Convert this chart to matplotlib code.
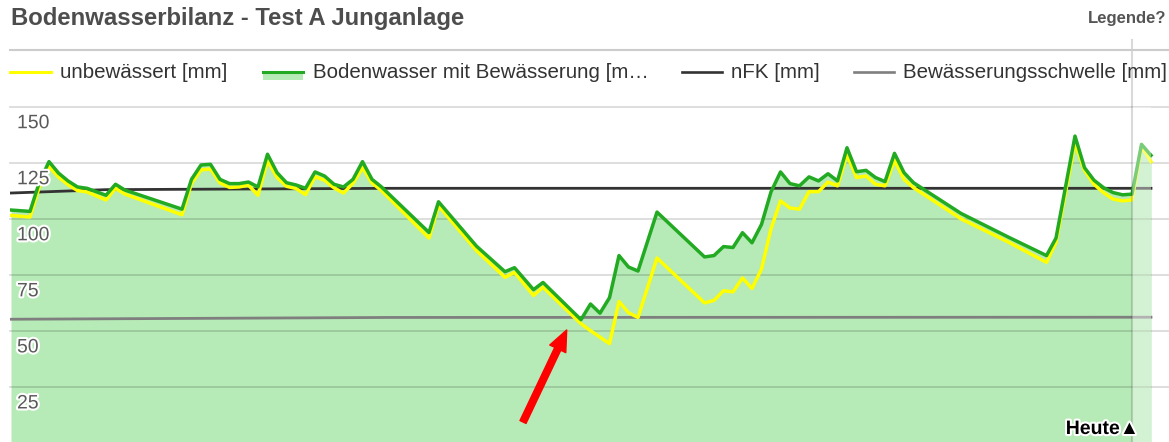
import numpy as np
import matplotlib.pyplot as plt
import matplotlib.patheffects as pe
from matplotlib.lines import Line2D
from matplotlib.patches import Rectangle

plt.rcParams["font.family"] = ["Liberation Sans", "DejaVu Sans"]

# Data ####################################################################################
title = "Bodenwasserbilanz - Test A Junganlage"
legend_labels = ["unbewässert [mm]", "Bodenwasser mit Bewässerung [m…", "nFK [mm]", "Bewässerungsschwelle [mm]"]

# day index of each point (today = 118)
days = [0, 2, 3, 4, 5, 6, 7, 8, 10, 11, 12, 18, 19, 20, 21, 22, 23, 24, 25, 26,
        27, 28, 29, 30, 31, 32, 33, 34, 35, 36, 37, 38, 39, 44, 45, 49, 52, 53, 55, 56,
        60, 61, 62, 63, 64, 65, 66, 68, 73, 74, 75, 76, 77, 78, 79, 80, 81, 82, 83, 84,
        85, 86, 87, 88, 89, 90, 91, 92, 93, 94, 95, 100, 105, 109, 110, 112, 113, 114, 115, 116,
        117, 118, 119, 120]
# soil water with irrigation [mm]
bewaessert = [103.9, 103.3, 116.5, 125.5, 120.4, 116.9, 114.2, 113.6, 110.5, 115.4, 112.8, 104.3, 117.6, 124.0, 124.3, 117.6, 115.7, 115.7, 116.4, 114.2,
              128.8, 120.6, 116.1, 115.1, 113.6, 120.9, 119.1, 115.4, 114.2, 117.6, 125.5, 117.6, 114.2, 93.9, 107.6, 87.8, 76.4, 78.2, 68.4, 71.6,
              55.0, 62.0, 57.9, 64.8, 83.6, 78.5, 76.7, 103.0, 83.0, 83.6, 87.6, 87.2, 93.8, 89.3, 97.5, 112.0, 120.9, 115.7, 114.7, 118.7,
              116.9, 120.1, 116.9, 131.7, 121.0, 121.6, 118.4, 116.6, 129.2, 120.6, 116.1, 102.4, 91.8, 83.6, 91.4, 136.9, 122.8, 117.2, 113.9, 111.7,
              110.7, 111.0, 133.2, 128.3]
# without irrigation [mm]
unbewaessert = [101.5, 100.8, 114.5, 123.3, 118.6, 115.2, 112.6, 112.0, 108.4, 113.6, 111.0, 101.8, 115.8, 121.8, 122.2, 116.0, 114.0, 114.2, 115.0, 110.5,
                126.0, 118.5, 114.5, 113.5, 110.8, 118.8, 117.2, 113.8, 111.5, 115.8, 122.8, 116.0, 112.6, 91.4, 105.8, 85.8, 73.9, 76.1, 65.8, 69.5,
                53.2, 50.1, 47.2, 44.3, 63.1, 58.1, 56.0, 82.5, 62.5, 63.6, 67.9, 67.4, 73.6, 68.9, 77.6, 95.5, 108.0, 104.8, 104.3, 112.1,
                112.1, 116.4, 114.7, 128.8, 118.4, 119.1, 115.4, 114.7, 126.1, 117.6, 113.9, 100.0, 89.6, 80.6, 89.5, 133.9, 121.6, 115.4, 111.7, 108.8,
                108.0, 108.4, 132.4, 125.5]
nfk_days = [0, 10, 40, 120]
nfk = [111.5, 113.0, 113.6, 113.6]
schwelle_days = [0, 40, 120]
schwelle = [55.2, 56.0, 56.1]
today = 118
yticks = [25, 50, 75, 100, 125, 150]

# Layout ##################################################################################
W, H = 1169, 442
def fp(x, y):
    # pixel (from top-left) -> figure fraction
    return x / W, 1 - y / H

fig = plt.figure(figsize=(W / 100, H / 100), dpi=100)
ax_top = 106.7
ax = fig.add_axes([10 / W, 0, 1 - 10 / W, 1 - ax_top / H])
ax.set_xlim(-1 / 9.5, (1169 - 11) / 9.5)
ax.set_ylim((443 - 442) / 2.242, 150)
ax.axis("off")

fill_col = "#b6eab6"
green = "#22aa22"
ax.fill_between(days, 0, bewaessert, color=fill_col, lw=0, zorder=1)
for v in yticks:
    ax.axhline(v, color=(0, 0, 0, 0.14), lw=1.3, zorder=2, clip_on=False)
ax.plot(schwelle_days, schwelle, color="#7f7f7f", lw=2.0, zorder=3)
ax.plot(nfk_days, nfk, color="#333333", lw=2.0, zorder=3)
ax.plot(days, unbewaessert, color="#ffff00", lw=2.5, zorder=4)
ax.plot(days, bewaessert, color=green, lw=2.5, zorder=5)

# forecast zone after today
ax.axvspan(today, days[-1], color="white", alpha=0.4, lw=0, zorder=6)
ax.plot([today, today], [0, 1.2], color=(0, 0, 0, 0.15), lw=1.5, zorder=6,
        transform=ax.get_xaxis_transform(), clip_on=False)

for v in yticks:
    ax.annotate(str(v), xy=(0, v), xycoords=("axes fraction", "data"), xytext=(7, -17),
                textcoords="offset pixels", ha="left", va="center", fontsize=14, color="#5a5a5a",
                path_effects=[pe.withStroke(linewidth=3, foreground="white")], zorder=7)

ax.annotate("Heute▲", xy=(today, 1), xycoords=("data", "axes fraction"), xytext=(7, -H + ax_top + 4),
            textcoords="offset pixels", ha="right", va="bottom", fontsize=14, fontweight="bold",
            color="black", annotation_clip=False,
            path_effects=[pe.withStroke(linewidth=3, foreground="white")], zorder=8)

# red arrow
ax.annotate("", xy=(566.7, H - 330), xycoords="figure pixels",
            xytext=(523, H - 422), textcoords="figure pixels",
            arrowprops=dict(arrowstyle="simple,head_length=1.0,head_width=0.85,tail_width=0.32",
                            color="red", mutation_scale=15, shrinkA=0, shrinkB=0), zorder=9)

# Title, separator, legend ###############################################################
fig.text(*fp(11, 18), title, fontsize=17.2, fontweight="bold", color="#4d4d4d", ha="left", va="center")
fig.text(*fp(1166, 19), "Legende?", fontsize=12, fontweight="bold", color="#555555", ha="right", va="center")
fig.add_artist(Line2D([10 / W, 1], [1 - 49.5 / H] * 2, color="#cccccc", lw=1.5))

ly = 71.5
fig.add_artist(Line2D([fp(10, 0)[0], fp(51, 0)[0]], [fp(0, ly)[1]] * 2, color="#ffff00", lw=2.2))
fig.add_artist(Rectangle(fp(263, 80), 40 / W, 9 / H, color=fill_col, lw=0))
fig.add_artist(Line2D([fp(263, 0)[0], fp(303, 0)[0]], [fp(0, ly)[1]] * 2, color=green, lw=2.2))
fig.add_artist(Line2D([fp(682, 0)[0], fp(722, 0)[0]], [fp(0, ly)[1]] * 2, color="#333333", lw=1.9))
fig.add_artist(Line2D([fp(854, 0)[0], fp(894, 0)[0]], [fp(0, ly)[1]] * 2, color="#7f7f7f", lw=1.9))
for x0, lab in zip([60, 313, 731, 903], legend_labels):
    fig.text(*fp(x0, 73), lab, fontsize=14.8, color="#333333", ha="left", va="center")

fig.savefig("out.png", dpi=100)
